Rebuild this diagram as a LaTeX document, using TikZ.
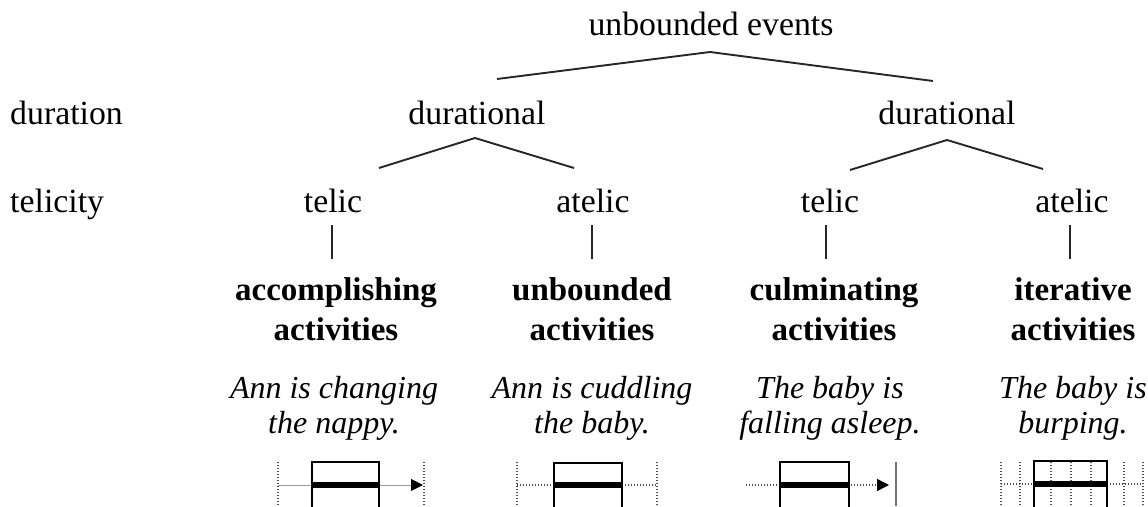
\documentclass[tikz,border=0pt]{standalone}
\usepackage{fontspec}
\setmainfont{Liberation Serif}
\usetikzlibrary{arrows.meta}
\begin{document}
\begin{tikzpicture}[x=1pt,y=-1pt,
  lbl/.style={inner sep=0pt, anchor=base, font=\fontsize{33.8}{40}\selectfont},
  boldlbl/.style={lbl, font=\fontsize{33}{40}\selectfont\bfseries, align=center},
  itlbl/.style={lbl, font=\fontsize{32}{35}\selectfont\itshape, align=center},
  tree/.style={line width=1.9pt, black!85},
  stem/.style={line width=1.5pt, black!85},
  dotv/.style={line width=1.7pt, dash pattern=on 1.4pt off 1.6pt, black!70},
  doth/.style={line width=1.4pt, dash pattern=on 1.4pt off 1.6pt, black!70},
  ibox/.style={line width=1.8pt, black},
  ibar/.style={line width=6.5pt, black},
  arr/.style={-{Triangle[length=12pt,width=12pt,color=black]}},
]
\useasboundingbox (0,0) rectangle (1148,506);
\node[lbl] (root) at (711,35) {unbounded events};
\node[lbl,anchor=base west] (durlab) at (10,124) {duration};
\node[lbl,anchor=base west] (tellab) at (10,212) {telicity};
\node[lbl] (d1) at (477,124) {durational};
\node[lbl] (d2) at (947,124) {durational};
\node[lbl] (t1) at (333,212) {telic};
\node[lbl] (a1) at (593,212) {atelic};
\node[lbl] (t2) at (830,212) {telic};
\node[lbl] (a2) at (1072,212) {atelic};
% tree connectors
\coordinate (r0) at (710,52);
\coordinate (r1) at (497,79);
\coordinate (r2) at (933,81);
\draw[tree] (r1) -- (r0) -- (r2);
\coordinate (p1) at (475,138);
\coordinate (p1l) at (379,168);
\coordinate (p1r) at (574,168);
\draw[tree] (p1l) -- (p1) -- (p1r);
\coordinate (p2) at (947,140);
\coordinate (p2l) at (850,170);
\coordinate (p2r) at (1043,169);
\draw[tree] (p2l) -- (p2) -- (p2r);
% categories
\node[boldlbl] (c1) at (336,340) {accomplishing\\activities};
\node[boldlbl] (c2) at (592,340) {unbounded\\activities};
\node[boldlbl] (c3) at (834,340) {culminating\\activities};
\node[boldlbl] (c4) at (1073,340) {iterative\\activities};
% stems
\coordinate (s1a) at (332,225); \coordinate (s1b) at (332,259);
\coordinate (s2a) at (592,225); \coordinate (s2b) at (592,259);
\coordinate (s3a) at (826,225); \coordinate (s3b) at (826,259);
\coordinate (s4a) at (1070,225); \coordinate (s4b) at (1070,259);
\draw[stem] (s1a) -- (s1b);
\draw[stem] (s2a) -- (s2b);
\draw[stem] (s3a) -- (s3b);
\draw[stem] (s4a) -- (s4b);
% examples
\node[itlbl] (e1) at (334,433) {Ann is changing\\the nappy.};
\node[itlbl] (e2) at (592,433) {Ann is cuddling\\the baby.};
\node[itlbl] (e3) at (830,433) {The baby is\\falling asleep.};
\node[itlbl] (e4) at (1073,433) {The baby is\\burping.};
% icon 1
\draw[dotv] (278,462) -- (278,506);
\draw[dotv] (424,462) -- (424,506);
\draw[line width=0.9pt, black!40, arr] (278,485) -- (423,485);
\draw[ibox] (312,507) |- (379,462) -- (379,507);
\draw[ibar] (312,485) -- (379,485);
% icon 2
\draw[dotv] (517,462) -- (517,506);
\draw[dotv] (657,462) -- (657,506);
\draw[doth] (517,485) -- (553,485);
\draw[doth] (622,485) -- (657,485);
\draw[ibox] (554,507) |- (622,463) -- (622,507);
\draw[ibar] (554,485) -- (622,485);
% icon 3
\draw[doth, arr] (746,485) -- (889,485);
\draw[line width=1.2pt, black!55] (896,462) -- (896,506);
\draw[ibox] (780,507) |- (849,462) -- (849,507);
\draw[ibar] (780,485) -- (849,485);
% icon 4
\draw[dotv] (1001,462) -- (1001,506);
\draw[dotv] (1020,462) -- (1020,506);
\draw[dotv] (1124,462) -- (1124,506);
\draw[dotv] (1143,462) -- (1143,506);
\draw[dotv] (1051,462) -- (1051,506);
\draw[dotv] (1071,462) -- (1071,506);
\draw[dotv] (1091,462) -- (1091,506);
\draw[doth] (1001,484) -- (1034,484);
\draw[doth] (1107,484) -- (1143,484);
\draw[ibox] (1034,507) |- (1107,461) -- (1107,507);
\draw[ibar] (1034,484) -- (1107,484);
\end{tikzpicture}
\end{document}
